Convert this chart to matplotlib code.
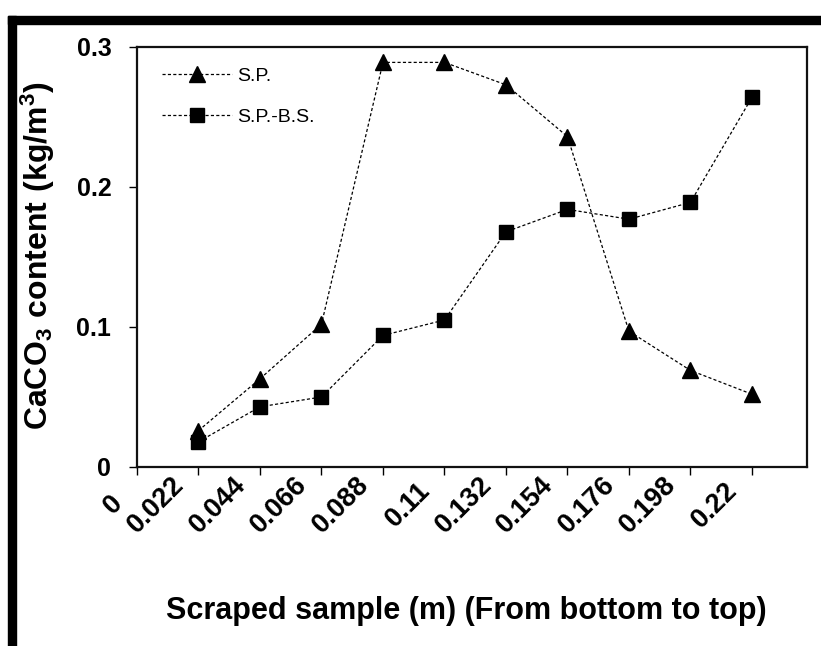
import matplotlib
matplotlib.use("Agg")
from matplotlib import pyplot as plt
from matplotlib.patches import Rectangle
from matplotlib import transforms

# scraped sample position (m) and CaCO3 content (kg/m3)
positions = [0.022, 0.044, 0.066, 0.088, 0.11, 0.132, 0.154, 0.176, 0.198, 0.22]
sp_values = [0.026, 0.063, 0.102, 0.289, 0.289, 0.273, 0.236, 0.097, 0.069, 0.052]
spbs_values = [0.018, 0.043, 0.050, 0.094, 0.105, 0.168, 0.184, 0.177, 0.189, 0.264]
x_ticks = [0, 0.022, 0.044, 0.066, 0.088, 0.11, 0.132, 0.154, 0.176, 0.198, 0.22]
x_tick_labels = ["0", "0.022", "0.044", "0.066", "0.088", "0.11", "0.132", "0.154", "0.176", "0.198", "0.22"]
y_ticks = [0, 0.1, 0.2, 0.3]
y_tick_labels = ["0", "0.1", "0.2", "0.3"]

plt.rcParams["font.family"] = ["Liberation Sans", "DejaVu Sans"]
plt.rcParams["mathtext.fontset"] = "custom"
plt.rcParams["mathtext.rm"] = "Liberation Sans:bold"
plt.rcParams["mathtext.bf"] = "Liberation Sans:bold"

W, H = 821, 646
fig = plt.figure(figsize=(W / 100, H / 100), dpi=100)
fig.patch.set_facecolor("white")

# thick black frame (top and left edges)
fig.patches.append(Rectangle((8 / W, (H - 24) / H), (W - 8) / W, 8 / H,
                             transform=fig.transFigure, color="black", zorder=0))
fig.patches.append(Rectangle((8 / W, 0), 8 / W, (H - 16) / H,
                             transform=fig.transFigure, color="black", zorder=0))

ax = fig.add_axes([137 / W, (H - 467) / H, 670 / W, 420 / H])

line_style = (0, (2.5, 1.8))
ax.plot(positions, sp_values, color="black", linestyle=line_style, linewidth=0.9,
        marker="^", markersize=11, markerfacecolor="black", markeredgecolor="black",
        label="S.P.")
ax.plot(positions, spbs_values, color="black", linestyle=line_style, linewidth=0.9,
        marker="s", markersize=9.5, markerfacecolor="black", markeredgecolor="black",
        label="S.P.-B.S.")

ax.set_xlim(0, 0.2397)
ax.set_ylim(0, 0.3)
ax.set_xticks(x_ticks)
ax.set_xticklabels([])
ax.set_yticks(y_ticks)
ax.set_yticklabels(y_tick_labels, fontsize=18, fontweight="bold")

# rotated x labels, centred a fixed distance below the axis, left of each tick
lbl_trans = ax.get_xaxis_transform() + transforms.ScaledTranslation(
    -9 / 100, -38 / 100, fig.dpi_scale_trans)
for xv, txt in zip(x_ticks, x_tick_labels):
    ax.text(xv, 0, txt, transform=lbl_trans, rotation=45, ha="right", va="center",
            fontsize=19.5, fontweight="bold", clip_on=False)

ax.tick_params(axis="x", direction="out", length=5.5, width=1, pad=2)
ax.tick_params(axis="y", direction="out", length=5.5, width=1, pad=13)
for side in ["left", "bottom", "top", "right"]:
    ax.spines[side].set_linewidth(1.6)
    ax.spines[side].set_color("#111111")

ax.legend(loc="upper left", bbox_to_anchor=(0.037, 0.952), frameon=False,
          fontsize=14, handlelength=3.6, handletextpad=0.3, labelspacing=1.2,
          borderpad=0, borderaxespad=0)

fig.text(466 / W, (H - 611) / H, "Scraped sample (m) (From bottom to top)",
         ha="center", va="center", fontsize=22, fontweight="bold")
fig.text(38 / W, (H - 256) / H, r"$\mathbf{CaCO_3\ content\ (kg/m^3)}$",
         ha="center", va="center", rotation=90, fontsize=23)

fig.savefig("out.png", dpi=100, facecolor="white")
